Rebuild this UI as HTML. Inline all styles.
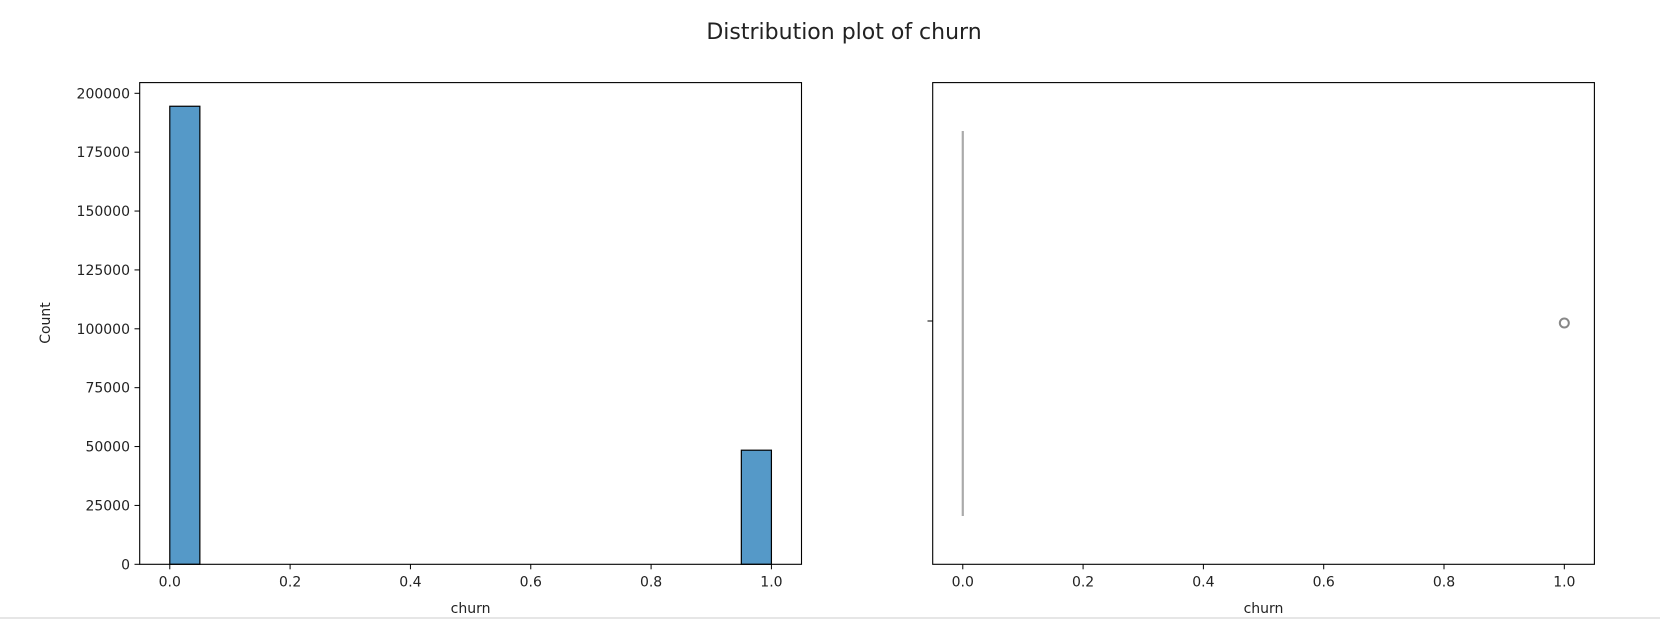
<!DOCTYPE html>
<html><head><meta charset="utf-8"><style>
html,body{margin:0;padding:0;background:#fff;width:1660px;height:622px;overflow:hidden}
svg text{font-family:"DejaVu Sans","Liberation Sans",sans-serif;fill:#222}
</style></head><body>
<svg id="chart" width="1660" height="622" xmlns="http://www.w3.org/2000/svg">
<text x="844" y="39" font-size="22" text-anchor="middle" fill="#111">Distribution plot of churn</text>
<g id="left"></g>
<g id="right"></g>
<line x1="0" y1="618" x2="1660" y2="618" stroke="#ddd" stroke-width="1.5"/>
</svg>
<script>
const binStarts=[0,0.95];
const binCounts=[194500,48450];
const binWidth=0.05;
const yTicks=[0,25000,50000,75000,100000,125000,150000,175000,200000];
const xTicks=[0,0.2,0.4,0.6,0.8,1.0];
const boxWhisker=[0,0];
const outliers=[1];
const NS="http://www.w3.org/2000/svg";
function mk(parent,tag,attrs){const e=document.createElementNS(NS,tag);for(const k in attrs)e.setAttribute(k,attrs[k]);parent.appendChild(e);return e;}
const axTop=82.6,bot=564.3;
function xs(x0,x1){return v=>x0+(v+0.05)/1.1*(x1-x0);}
const ly=v=>bot-v/200000*(bot-93.3);
// left
const L=document.getElementById('left');const lx=xs(139.7,801.5);
for(let i=0;i<binStarts.length;i++){
 const r=mk(L,'rect',{x:lx(binStarts[i]),y:ly(binCounts[i]),width:lx(binStarts[i]+binWidth)-lx(binStarts[i]),height:bot-ly(binCounts[i]),fill:'#5599c8',stroke:'#000','stroke-width':1.2});
 
 
}
const lf=mk(L,'rect',{x:139.7,y:axTop,width:661.8,height:bot-axTop,fill:'none',stroke:'#000','stroke-width':1.1});


yTicks.forEach(t=>{const y=ly(t);mk(L,'line',{x1:134.5,x2:139.7,y1:y,y2:y,stroke:'#000'});
 const tx=mk(L,'text',{x:130,y:y+5,'font-size':14,'text-anchor':'end'});tx.textContent=t;
 
 });
xTicks.forEach(t=>{const x=lx(t);mk(L,'line',{x1:x,x2:x,y1:bot,y2:bot+5,stroke:'#000'});
 const tx=mk(L,'text',{x:x,y:bot+22,'font-size':14,'text-anchor':'middle'});tx.textContent=t.toFixed(1);
 
 });
let t1=mk(L,'text',{x:470.6,y:613,'font-size':14,'text-anchor':'middle'});t1.textContent='churn';


let t2=mk(L,'text',{x:0,y:0,'font-size':14,'text-anchor':'middle',transform:'translate(50,323) rotate(-90)'});t2.textContent='Count';


// right
const R=document.getElementById('right');const rx=xs(932.7,1594.4);
const wl=mk(R,'line',{x1:rx(boxWhisker[0]),x2:rx(boxWhisker[1]),y1:131,y2:516,stroke:'#aaa','stroke-width':2.2});


outliers.forEach(o=>{const c=mk(R,'circle',{cx:rx(o),cy:323,r:4.5,fill:'none',stroke:'#888','stroke-width':2});
 
 });
const rf=mk(R,'rect',{x:932.7,y:axTop,width:661.7,height:bot-axTop,fill:'none',stroke:'#000','stroke-width':1.1});


mk(R,'line',{x1:927.5,x2:932.7,y1:321,y2:321,stroke:'#000'});
xTicks.forEach(t=>{const x=rx(t);mk(R,'line',{x1:x,x2:x,y1:bot,y2:bot+5,stroke:'#000'});
 const tx=mk(R,'text',{x:x,y:bot+22,'font-size':14,'text-anchor':'middle'});tx.textContent=t.toFixed(1);
 
 });
let t3=mk(R,'text',{x:1263.5,y:613,'font-size':14,'text-anchor':'middle'});t3.textContent='churn';


</script>
</body></html>
